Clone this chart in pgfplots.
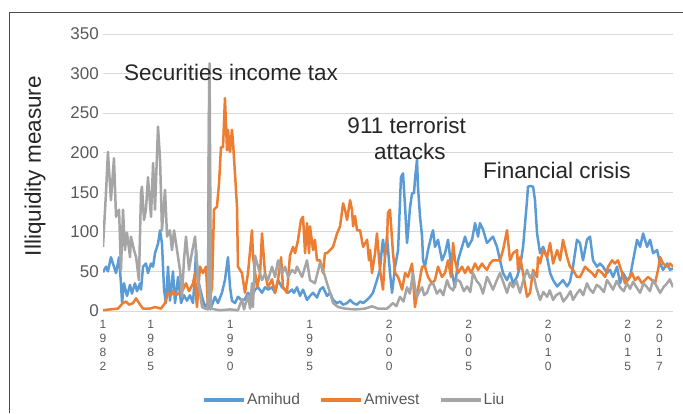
\documentclass[border=0pt]{standalone}
\usepackage{pgfplots}
\pgfplotsset{compat=1.18}
\usepackage{fontspec}
\setmainfont{Liberation Sans}
\definecolor{cblue}{HTML}{5B9BD5}
\definecolor{corange}{HTML}{ED7D31}
\definecolor{cgray}{HTML}{A5A5A5}
\definecolor{ctext}{HTML}{595959}
\begin{document}
\begin{tikzpicture}[x=1pt,y=1pt]
\useasboundingbox (0,0) rectangle (683,413);
\draw[black!70, line width=0.9pt] (9,0) -- (9,401) -- (683,401);
\node[rotate=90, font=\fontsize{22.5}{26}\selectfont, text=black!85] at (35,247) {Illiquidity measure};
\begin{axis}[
  at={(103pt,102pt)}, anchor=south west,
  scale only axis, width=570pt, height=277pt,
  xmin=1982, xmax=2017.85, ymin=0, ymax=350,
  ytick={0,50,...,350},
  xtick={1982,1985,1990,1995,2000,2005,2010,2015,2017},
  xticklabels={{1\\9\\8\\2},{1\\9\\8\\5},{1\\9\\9\\0},{1\\9\\9\\5},{2\\0\\0\\0},{2\\0\\0\\5},{2\\0\\1\\0},{2\\0\\1\\5},{2\\0\\1\\7}},
  /pgf/number format/assume math mode=true,
  major tick length=0pt,
  axis line style={draw=none},
  ymajorgrids, major grid style={draw=black!15, line width=0.9pt},
  yticklabel style={font=\fontsize{17}{20}\selectfont, text=ctext, inner sep=0pt, xshift=-4pt},
  xticklabel style={font=\fontsize{12}{14}\selectfont, text=ctext, align=center, inner sep=0pt, yshift=-9pt},
  legend style={draw=none, fill=none, at={(0.44,-0.321)}, anchor=center, legend columns=3,
    font=\fontsize{15.6}{18}\selectfont, text=ctext, inner xsep=0pt,
    /tikz/every even column/.append style={column sep=18pt},
    nodes={inner sep=1pt}},
  legend image code/.code={\draw[#1, line width=4pt] (0pt,0pt) -- (40pt,0pt);},
  every axis plot/.append style={line width=2.5pt, line join=round},
]
\addplot[cblue, no markers] coordinates {
(1982.00,49)(1982.19,56)(1982.31,50)(1982.50,68)(1982.69,56)(1982.82,48)(1983.01,68)(1983.13,35)(1983.20,10)(1983.32,35)
(1983.51,19)(1983.70,33)(1983.82,22)(1984.01,35)(1984.14,25)(1984.33,35)(1984.39,27)(1984.52,56)(1984.70,60)(1984.83,48)
(1985.02,60)(1985.15,56)(1985.27,73)(1985.46,85)(1985.59,102)(1985.71,85)(1985.84,27)(1985.96,10)(1986.09,56)(1986.21,13)
(1986.40,50)(1986.53,10)(1986.72,43)(1986.91,10)(1987.09,20)(1987.28,13)(1987.47,20)(1987.66,10)(1987.79,48)(1987.85,77)
(1987.98,39)(1988.23,18)(1988.42,5)(1988.60,10)(1988.68,300)(1988.76,2)(1989.04,18)(1989.23,10)(1989.48,23)(1989.67,39)
(1989.86,68)(1989.99,30)(1990.11,13)(1990.30,10)(1990.49,18)(1990.74,13)(1990.93,15)(1991.12,23)(1991.37,18)(1991.56,27)
(1991.75,30)(1992.00,23)(1992.19,30)(1992.38,27)(1992.63,30)(1992.82,23)(1993.01,39)(1993.26,30)(1993.45,27)(1993.64,23)
(1993.89,27)(1994.01,23)(1994.20,30)(1994.39,19)(1994.58,27)(1994.83,14)(1995.02,19)(1995.21,23)(1995.46,17)(1995.65,27)
(1995.84,30)(1996.09,19)(1996.28,23)(1996.47,14)(1996.72,10)(1996.91,12)(1997.10,8)(1997.35,10)(1997.54,14)(1997.73,10)
(1997.98,8)(1998.17,12)(1998.36,10)(1998.61,14)(1998.80,18)(1998.98,23)(1999.23,39)(1999.42,52)(1999.55,81)(1999.61,90)
(1999.74,68)(1999.86,94)(2000.05,48)(2000.18,23)(2000.37,56)(2000.56,77)(2000.74,169)(2000.87,174)(2001.00,131)(2001.12,86)
(2001.18,98)(2001.31,131)(2001.44,149)(2001.56,149)(2001.62,166)(2001.75,191)(2001.81,157)(2001.94,119)(2002.07,94)(2002.13,64)
(2002.25,56)(2002.44,77)(2002.69,98)(2002.76,102)(2002.88,81)(2003.07,90)(2003.32,64)(2003.51,73)(2003.70,90)(2003.95,48)
(2004.14,30)(2004.33,64)(2004.58,81)(2004.77,94)(2004.96,81)(2005.21,90)(2005.40,111)(2005.59,94)(2005.71,111)(2005.90,103)
(2006.15,86)(2006.53,94)(2006.78,81)(2006.97,64)(2007.16,48)(2007.41,39)(2007.60,48)(2007.79,35)(2008.04,43)(2008.23,56)
(2008.42,81)(2008.67,140)(2008.73,157)(2008.86,158)(2009.05,157)(2009.17,140)(2009.30,98)(2009.49,73)(2009.68,81)(2009.93,68)
(2010.12,48)(2010.31,39)(2010.56,31)(2010.75,35)(2010.93,39)(2011.19,31)(2011.37,37)(2011.56,56)(2011.81,90)(2012.00,86)
(2012.19,64)(2012.44,90)(2012.63,94)(2012.82,64)(2013.07,56)(2013.26,60)(2013.45,56)(2013.70,48)(2013.89,52)(2014.08,43)
(2014.33,56)(2014.52,35)(2014.71,48)(2014.96,39)(2015.15,43)(2015.34,64)(2015.59,90)(2015.78,81)(2015.97,98)(2016.22,81)
(2016.41,90)(2016.60,73)(2016.85,77)(2017.04,60)(2017.22,52)(2017.48,60)(2017.66,52)(2017.85,54)
};
\addlegendentry{Amihud}
\addplot[corange, no markers] coordinates {
(1982.00,1)(1982.44,2)(1982.94,3)(1983.07,6)(1983.26,10)(1983.45,12)(1983.64,8)(1983.89,10)(1984.08,16)(1984.33,8)
(1984.52,3)(1984.96,3)(1985.27,5)(1985.65,3)(1985.90,10)(1986.09,23)(1986.28,20)(1986.40,25)(1986.59,20)(1986.84,23)
(1987.03,27)(1987.22,35)(1987.41,25)(1987.54,30)(1987.66,35)(1987.79,48)(1987.85,20)(1987.91,5)(1988.10,56)(1988.29,48)
(1988.48,56)(1988.60,5)(1988.86,30)(1988.98,128)(1989.17,132)(1989.30,162)(1989.42,207)(1989.55,207)(1989.67,269)(1989.80,203)
(1989.86,229)(1989.99,201)(1990.11,229)(1990.18,212)(1990.30,174)(1990.43,131)(1990.49,56)(1990.74,48)(1990.93,23)(1991.12,48)
(1991.37,102)(1991.43,70)(1991.69,30)(1991.88,48)(1992.00,98)(1992.19,48)(1992.38,30)(1992.63,40)(1992.82,23)(1993.01,40)
(1993.20,68)(1993.32,30)(1993.57,23)(1993.76,70)(1993.95,81)(1994.08,73)(1994.27,90)(1994.45,115)(1994.58,119)(1994.71,73)
(1994.83,111)(1994.96,73)(1995.02,107)(1995.21,77)(1995.33,90)(1995.46,64)(1995.65,64)(1995.84,48)(1995.96,73)(1996.09,73)
(1996.28,77)(1996.47,81)(1996.72,98)(1996.91,107)(1997.10,136)(1997.22,128)(1997.35,115)(1997.54,140)(1997.66,128)(1997.73,107)
(1997.85,120)(1997.98,102)(1998.17,102)(1998.36,81)(1998.61,90)(1998.73,64)(1998.80,77)(1998.92,48)(1999.11,73)(1999.23,98)
(1999.42,52)(1999.61,27)(1999.74,73)(1999.86,86)(1999.92,124)(2000.05,128)(2000.18,90)(2000.24,73)(2000.37,48)(2000.56,43)
(2000.81,27)(2001.00,48)(2001.18,43)(2001.44,60)(2001.62,5)(2001.81,27)(2002.07,56)(2002.25,56)(2002.44,43)(2002.69,35)
(2002.88,39)(2003.07,56)(2003.32,43)(2003.51,48)(2003.70,64)(2003.89,43)(2004.02,86)(2004.14,64)(2004.33,48)(2004.58,56)
(2004.77,48)(2004.96,56)(2005.15,48)(2005.40,60)(2005.59,52)(2005.84,60)(2005.96,56)(2006.15,52)(2006.34,60)(2006.53,64)
(2006.78,64)(2006.97,64)(2007.16,77)(2007.41,102)(2007.60,64)(2007.79,73)(2008.04,77)(2008.10,52)(2008.23,68)(2008.42,48)
(2008.67,18)(2008.86,23)(2009.05,52)(2009.30,43)(2009.36,68)(2009.49,60)(2009.68,77)(2009.93,68)(2010.12,86)(2010.31,60)
(2010.56,77)(2010.75,64)(2010.93,90)(2011.19,68)(2011.37,56)(2011.56,52)(2011.81,43)(2012.00,43)(2012.13,48)(2012.32,56)
(2012.51,52)(2012.76,48)(2012.95,43)(2013.14,52)(2013.39,48)(2013.58,43)(2013.77,56)(2014.02,64)(2014.20,60)(2014.39,64)
(2014.65,48)(2014.83,35)(2015.02,39)(2015.27,48)(2015.46,39)(2015.65,43)(2015.90,35)(2016.09,39)(2016.28,43)(2016.53,39)
(2016.72,35)(2016.91,52)(2017.04,68)(2017.22,60)(2017.48,56)(2017.66,60)(2017.85,56)
};
\addlegendentry{Amivest}
\addplot[cgray, no markers] coordinates {
(1982.00,81)(1982.19,150)(1982.31,201)(1982.50,140)(1982.69,193)(1982.82,119)(1983.01,128)(1983.13,52)(1983.26,128)(1983.38,77)
(1983.51,99)(1983.70,68)(1983.76,94)(1983.95,77)(1984.08,68)(1984.26,39)(1984.39,149)(1984.45,157)(1984.58,115)(1984.70,128)
(1984.83,169)(1985.02,119)(1985.15,187)(1985.27,128)(1985.46,233)(1985.59,191)(1985.71,102)(1985.90,153)(1986.03,94)(1986.21,102)
(1986.34,77)(1986.47,102)(1986.59,86)(1986.84,52)(1986.97,18)(1987.09,64)(1987.22,94)(1987.41,52)(1987.54,68)(1987.79,94)
(1987.98,40)(1988.23,5)(1988.42,3)(1988.60,2)(1988.70,313)(1988.79,3)(1989.04,2)(1989.36,1)(1989.99,2)(1990.49,1)
(1990.74,15)(1990.87,2)(1991.12,20)(1991.25,3)(1991.37,35)(1991.43,5)(1991.56,70)(1991.75,56)(1992.00,39)(1992.19,47)
(1992.38,39)(1992.63,56)(1992.82,43)(1993.01,64)(1993.26,47)(1993.45,56)(1993.64,43)(1993.89,52)(1994.08,48)(1994.20,56)
(1994.52,43)(1994.83,64)(1995.02,39)(1995.33,35)(1995.65,61)(1995.84,52)(1996.09,35)(1996.28,23)(1996.47,10)(1996.78,5)
(1997.22,3)(1997.85,2)(1998.48,3)(1998.92,6)(1999.30,3)(1999.86,3)
(2000.24,10)(2000.45,6)(2000.68,18)(2000.90,12)(2001.12,30)(2001.30,22)(2001.50,48)(2001.62,30)(2001.75,18)(2001.90,25)
(2002.07,30)(2002.20,20)(2002.38,23)(2002.55,33)(2002.76,35)(2003.00,22)(2003.20,27)(2003.40,20)(2003.64,39)(2003.80,30)
(2004.02,26)(2004.25,40)(2004.46,37)(2004.70,25)(2004.90,31)(2005.10,24)(2005.27,48)(2005.50,38)(2005.71,33)(2005.90,22)
(2006.15,43)(2006.35,35)(2006.53,27)(2006.75,38)(2006.97,48)(2007.20,35)(2007.41,23)(2007.60,36)(2007.79,30)(2008.00,38)
(2008.23,23)(2008.45,40)(2008.67,52)(2008.85,42)(2009.05,48)(2009.25,30)(2009.49,14)(2009.70,24)(2009.93,18)(2010.10,26)
(2010.31,14)(2010.50,20)(2010.75,23)(2010.95,12)(2011.19,18)(2011.40,25)(2011.56,14)(2011.80,22)(2012.00,27)(2012.20,20)
(2012.44,35)(2012.60,28)(2012.82,23)(2013.05,33)(2013.26,30)(2013.50,24)(2013.70,39)(2013.90,33)(2014.08,27)(2014.30,38)
(2014.52,30)(2014.75,25)(2014.96,35)(2015.15,28)(2015.34,37)(2015.55,30)(2015.78,23)(2016.00,35)(2016.22,30)(2016.40,25)
(2016.60,39)(2016.80,32)(2017.04,23)(2017.25,30)(2017.48,35)(2017.65,40)(2017.85,30)
};
\addlegendentry{Liu}
\node[font=\fontsize{22.5}{26}\selectfont, text=black!85] at (axis cs:1990.05,302) {Securities income tax};
\node[font=\fontsize{22.5}{26}\selectfont, text=black!85] at (axis cs:2001.1,235) {911 terrorist};
\node[font=\fontsize{22.5}{26}\selectfont, text=black!85] at (axis cs:2001.3,201) {attacks};
\node[font=\fontsize{22.5}{26}\selectfont, text=black!85] at (axis cs:2010.55,178) {Financial crisis};
\end{axis}
\end{tikzpicture}
\end{document}
